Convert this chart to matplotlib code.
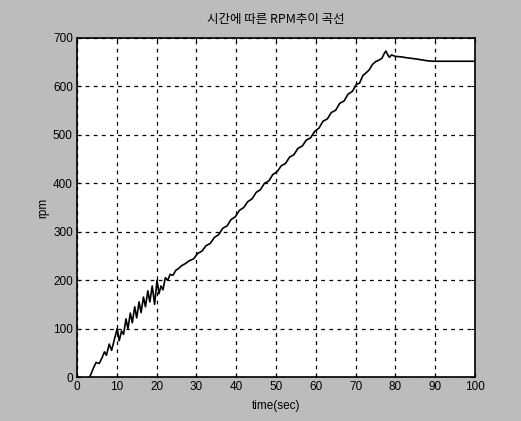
import matplotlib
matplotlib.use("Agg")
import matplotlib.pyplot as plt

# ---- data ----
time_sec = [3.2, 4.1, 4.8, 5.6, 6.3, 6.9, 7.4, 8.1, 8.7, 9.4, 10.1, 10.6, 11.2, 11.7,
            12.3, 12.8, 13.4, 13.9, 14.5, 15.0, 15.6, 16.1, 16.7, 17.2, 17.8, 18.3,
            18.9, 19.5, 20.1, 20.6, 21.1, 21.6, 22.2, 22.8, 23.4, 24.1, 24.8,
            25.5, 26.3, 27.2, 28.2, 29.3, 30.3, 31.4, 32.4, 33.5, 34.5, 35.6, 36.6,
            37.7, 38.7, 39.8, 40.8, 41.9, 42.9, 44.0, 45.0, 46.1, 47.1, 48.2, 49.2,
            50.3, 51.3, 52.4, 53.4, 54.5, 55.5, 56.6, 57.6, 58.7, 59.7, 60.8, 61.8,
            62.9, 63.9, 65.0, 66.0, 67.1, 68.1, 69.2, 70.2, 71.0, 71.8, 72.6, 73.4,
            74.2, 75.0, 75.8, 76.6, 77.2, 77.6, 78.1, 78.5, 79.0, 80.0, 81.5, 83.0,
            85.0, 86.5, 88.0, 89.5, 92.0, 96.0, 100.0]
rpm = [0, 18, 30, 28, 40, 52, 45, 68, 55, 78, 100, 75, 95, 88,
       120, 100, 132, 112, 145, 122, 155, 133, 165, 145, 178, 155,
       188, 150, 200, 172, 188, 180, 205, 200, 212, 210, 220,
       224, 230, 234, 240, 244, 255, 260, 271, 276, 288, 294, 307,
       312, 325, 331, 344, 350, 362, 368, 381, 387, 400, 405, 418,
       424, 436, 441, 454, 459, 472, 477, 489, 494, 507, 514, 528,
       533, 546, 551, 565, 570, 584, 590, 604, 607, 622, 628, 634,
       645, 651, 654, 658, 668, 673, 665, 660, 665, 662, 661, 659,
       657, 655, 653, 652, 652, 652, 652]

x_ticks = [0, 10, 20, 30, 40, 50, 60, 70, 80, 90, 100]
y_ticks = [0, 100, 200, 300, 400, 500, 600, 700]

title_text = "시간에 따른 RPM추이 곡선"
x_label = "time(sec)"
y_label = "rpm"

# ---- figure ----
plt.rcParams['font.family'] = ['Liberation Sans', 'Noto Sans CJK KR', 'DejaVu Sans']
fig = plt.figure(figsize=(5.21, 4.21), dpi=100, facecolor='#bcbcbc')
ax = fig.add_axes([77/521, 1 - 377/421, 398/521, 339/421])
ax.set_facecolor('white')

ax.plot(time_sec, rpm, color='black', linewidth=1.2)

ax.set_xlim(0, 100)
ax.set_ylim(0, 700)
ax.set_xticks(x_ticks)
ax.set_yticks(y_ticks)
ax.grid(True, color='black', linestyle=(0, (3, 3.5)), linewidth=0.9)
ax.set_axisbelow(True)

for s in ax.spines.values():
    s.set_linewidth(1.2)
    s.set_color('black')

ax.tick_params(direction='in', length=3, width=0.8, top=True, right=True,
               labelsize=8.5, colors='black')
ax.tick_params(axis='x', pad=3)
ax.tick_params(axis='y', pad=3)

ax.set_title(title_text, fontsize=9, pad=11,
             family=['Noto Sans CJK KR', 'Liberation Sans'])
ax.set_xlabel(x_label, fontsize=8.5, labelpad=5)
ax.set_ylabel(y_label, fontsize=8.5, labelpad=3)

fig.savefig('out.png', dpi=100, facecolor=fig.get_facecolor())
